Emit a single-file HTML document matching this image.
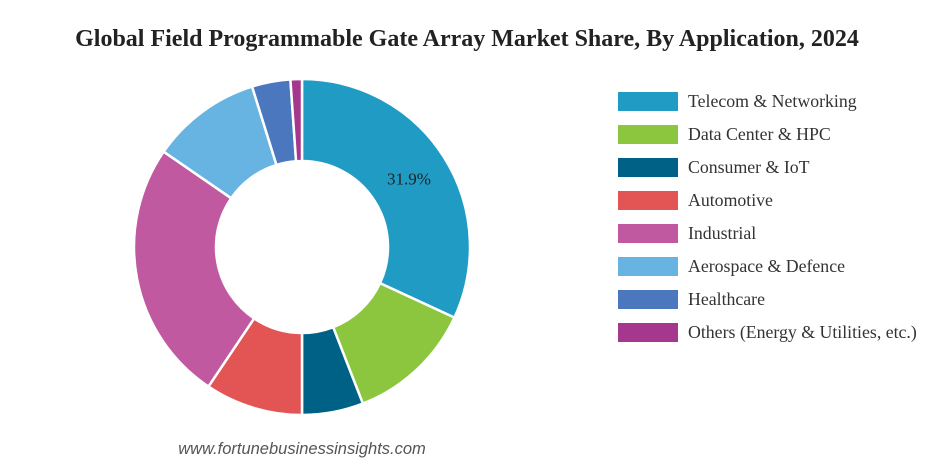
<!DOCTYPE html>
<html><head><meta charset="utf-8"><style>
body{margin:0;background:#fff;}
svg{display:block;}
</style></head><body>
<svg id="chart" width="934" height="465">
<text x="467" y="46" text-anchor="middle" font-family="Liberation Serif, serif" font-weight="bold" font-size="24" fill="#222">Global Field Programmable Gate Array Market Share, By Application, 2024</text>
<g id="slices"></g>
<g id="legend"></g>
<text x="302" y="454" text-anchor="middle" font-family="Liberation Sans, sans-serif" font-style="italic" font-size="16.5" fill="#555">www.fortunebusinessinsights.com</text>
</svg>
<script>
const categories=["Telecom & Networking","Data Center & HPC","Consumer & IoT","Automotive","Industrial","Aerospace & Defence","Healthcare","Others (Energy & Utilities, etc.)"];
const values=[31.9,12.2,5.9,9.4,25.2,10.6,3.7,1.1];
const colors=["#1f9bc4","#8cc63f","#006186","#e35454","#c059a0","#67b4e3","#4b77be","#a5378c"];
const labelShown=[true,false,false,false,false,false,false,false];
const NS="http://www.w3.org/2000/svg";
const cx=302,cy=247,R=168,r=86;
const total=values.reduce((a,b)=>a+b,0);
const sg=document.getElementById('slices');
function pt(a,rad){return [cx+rad*Math.sin(a),cy-rad*Math.cos(a)];}
let acc=0;
values.forEach((v,i)=>{
  const a0=acc/total*2*Math.PI;acc+=v;const a1=acc/total*2*Math.PI;
  const lg=(a1-a0)>Math.PI?1:0;
  const p0=pt(a0,R),p1=pt(a1,R),q1=pt(a1,r),q0=pt(a0,r);
  const p=document.createElementNS(NS,'path');
  p.setAttribute('d',`M${p0[0]},${p0[1]}A${R},${R} 0 ${lg} 1 ${p1[0]},${p1[1]}L${q1[0]},${q1[1]}A${r},${r} 0 ${lg} 0 ${q0[0]},${q0[1]}Z`);
  p.setAttribute('fill',colors[i]);p.setAttribute('stroke','#fff');p.setAttribute('stroke-width','2.5');
  
  
  sg.appendChild(p);
  if(labelShown[i]){
    const m=pt((a0+a1)/2,(R+r)/2);
    const t=document.createElementNS(NS,'text');
    t.setAttribute('x',m[0]);t.setAttribute('y',m[1]+6);t.setAttribute('text-anchor','middle');
    t.setAttribute('font-family','Liberation Serif, serif');t.setAttribute('font-size','17');t.setAttribute('fill','#222');
    t.textContent=v.toFixed(1)+'%';
    
    
    sg.appendChild(t);
  }
});
const lg=document.getElementById('legend');
categories.forEach((c,i)=>{
  const y=92+i*33;
  const g=document.createElementNS(NS,'g');
  
  
  const rc=document.createElementNS(NS,'rect');
  rc.setAttribute('x',618);rc.setAttribute('y',y);rc.setAttribute('width',60);rc.setAttribute('height',19);rc.setAttribute('fill',colors[i]);
  
  
  const t=document.createElementNS(NS,'text');
  t.setAttribute('x',688);t.setAttribute('y',y+15);t.setAttribute('font-family','Liberation Serif, serif');t.setAttribute('font-size','17.8');t.setAttribute('fill','#333');
  t.textContent=c;
  
  
  g.appendChild(rc);g.appendChild(t);lg.appendChild(g);
});
</script>
</body></html>
